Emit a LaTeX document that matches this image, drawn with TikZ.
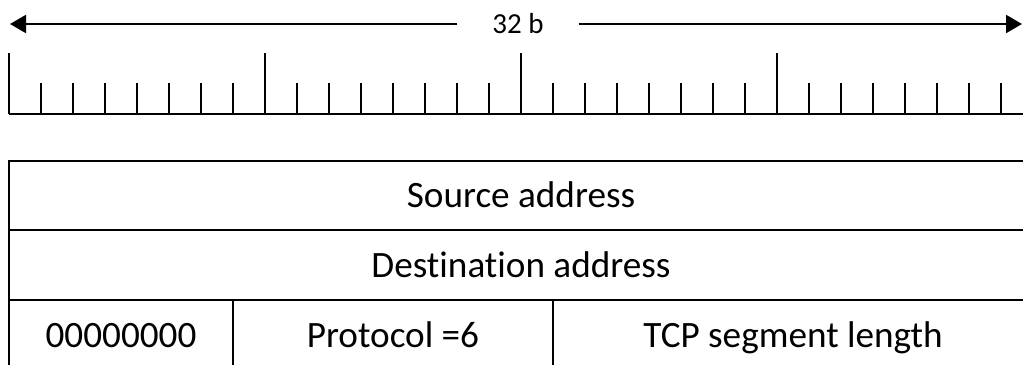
\documentclass[tikz,border=0pt]{standalone}
\usepackage{fontspec}
\setmainfont{Carlito}[Ligatures=NoCommon]
\usetikzlibrary{arrows.meta}

\begin{document}
\begin{tikzpicture}[x=0.5pt,y=-0.5pt,line width=1pt,
	cell/.style={anchor=base,inner sep=0pt,font=\fontsize{18.6}{22}\selectfont}]
		\useasboundingbox (0,0) rectangle (1023,365);
		% width of the word
		\node[font=\fontsize{14.5}{17}\selectfont,inner xsep=17pt] (len) at (518,24) {32 b};
		\coordinate (tipL) at (10,24);
		\coordinate (tipR) at (1022,24);
		\path[-{Triangle[length=8pt,width=9pt]}]
		(len) edge (tipL)
		(len) edge (tipR);
		%
		% bit ruler
		\draw (9,114) -- (1023,114);
		\foreach \i in {0,...,31}
			\draw (9+32*\i,114) -- ++(0,-31);
		\foreach \i in {0,8,16,24}
			\draw (9+32*\i,114) -- ++(0,-61);
		%
		% header rows
		\draw (1023,161) -- (9,161) -- (9,365);
		\draw (9,230) -- (1023,230);
		\draw (9,300) -- (1023,300);
		\draw (233,300) -- (233,365);
		\draw (553,300) -- (553,365);
		\node[cell] (src) at (521,207) {Source address};
		\node[cell] (dst) at (521,277) {Destination address};
		\node[cell] (zeros) at (121,347) {00000000};
		\node[cell] (proto) at (393,347) {Protocol =6};
		\node[cell] (seglen) at (793,347) {TCP segment length};
	\end{tikzpicture}
\end{document}
